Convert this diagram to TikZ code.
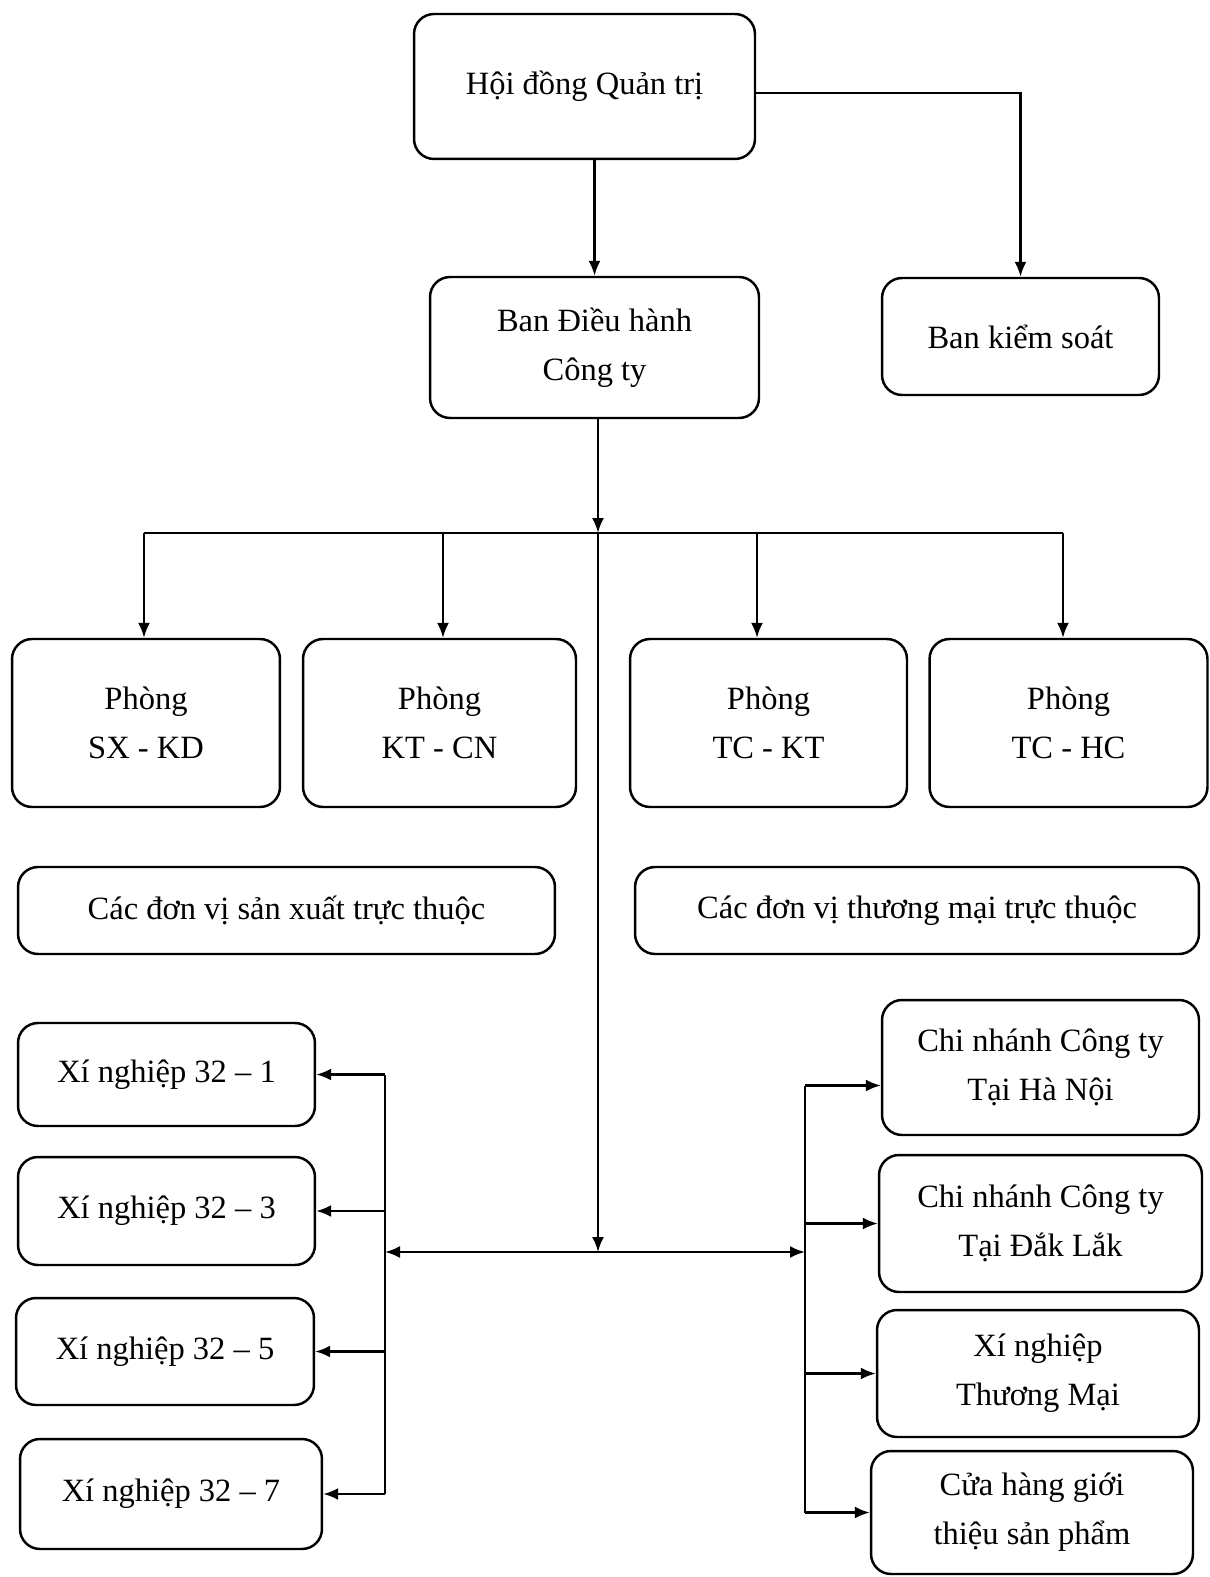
\documentclass[tikz,border=0pt]{standalone}
\usepackage{fontspec}
\setmainfont{Liberation Serif}
\usetikzlibrary{arrows.meta}

\begin{document}
\begin{tikzpicture}[x=0.02cm,y=-0.02cm,
    khung/.style={draw,line width=1.4pt,rounded corners=0.4cm,align=center,
      font=\fontsize{18.5}{28}\selectfont,inner sep=0pt},
    muiten/.style={line width=1.3pt,-{Latex[length=3mm,width=2.4mm]}},
    duong/.style={line width=1.3pt}]
      \useasboundingbox (0,0) rectangle (1209,1577);
      % cap tren
      \node[khung,minimum width=6.82cm,minimum height=2.9cm] (hdqt) at (584.5,86.5) {Hội đồng Quản trị};
      \node[khung,minimum width=6.58cm,minimum height=2.82cm] (bdh) at (594.5,347.5) {Ban Điều hành\\Công ty};
      \node[khung,minimum width=5.54cm,minimum height=2.34cm] (bks) at (1020.5,336.5) {Ban kiểm soát};
      \draw[muiten] (bdh.north |- hdqt.south) -- (bdh.north);
      \draw[muiten] ([yshift=-0.13cm]hdqt.east) -| (bks.north);
      % cac phong
      \node[khung,minimum width=5.36cm,minimum height=3.36cm] (sxkd) at (146,723) {Phòng\\SX - KD};
      \node[khung,minimum width=5.46cm,minimum height=3.36cm] (ktcn) at (439.5,723) {Phòng\\KT - CN};
      \node[khung,minimum width=5.54cm,minimum height=3.36cm] (tckt) at (768.5,723) {Phòng\\TC - KT};
      \node[khung,minimum width=5.56cm,minimum height=3.36cm] (tchc) at (1068.5,723) {Phòng\\TC - HC};
      \node[khung,minimum width=10.74cm,minimum height=1.74cm] (dvsx) at (286.5,910.5) {Các đơn vị sản xuất trực thuộc};
      \node[khung,minimum width=11.28cm,minimum height=1.74cm] (dvtm) at (917,910.5) {Các đơn vị thương mại trực thuộc};
      \coordinate (nut1) at (598,533);
      \coordinate (nut2) at (598,1252);
      \coordinate (re1) at (144,533);
      \coordinate (re2) at (443,533);
      \coordinate (re3) at (757,533);
      \coordinate (re4) at (1063,533);
      \draw[muiten] (bdh.south -| nut1) -- (nut1);
      \draw[duong] (re1) -- (re4);
      \foreach \r/\p in {re1/sxkd,re2/ktcn,re3/tckt,re4/tchc}
        \draw[muiten] (\r) -- (\r |- \p.north);
      \draw[muiten] (nut1) -- (nut2);
      % xi nghiep san xuat
      \node[khung,minimum width=5.94cm,minimum height=2.06cm] (xn1) at (166.5,1074.5) {Xí nghiệp 32 -- 1};
      \node[khung,minimum width=5.94cm,minimum height=2.16cm] (xn3) at (166.5,1211) {Xí nghiệp 32 -- 3};
      \node[khung,minimum width=5.96cm,minimum height=2.14cm] (xn5) at (165,1351.5) {Xí nghiệp 32 -- 5};
      \node[khung,minimum width=6.04cm,minimum height=2.2cm] (xn7) at (171,1494) {Xí nghiệp 32 -- 7};
      \coordinate (trai) at (385,1252);
      \draw[muiten] (nut2) -- (trai);
      \draw[duong] (trai |- xn1.east) -- (trai |- xn7.east);
      \foreach \x in {xn1,xn3,xn5,xn7}
        \draw[muiten] (trai |- \x.east) -- (\x.east);
      % don vi thuong mai
      \node[khung,minimum width=6.34cm,minimum height=2.7cm] (cnhn) at (1040.5,1067.5) {Chi nhánh Công ty\\Tại Hà Nội};
      \node[khung,minimum width=6.46cm,minimum height=2.74cm] (cndl) at (1040.5,1223.5) {Chi nhánh Công ty\\Tại Đắk Lắk};
      \node[khung,minimum width=6.44cm,minimum height=2.54cm] (xntm) at (1038,1373.5) {Xí nghiệp\\Thương Mại};
      \node[khung,minimum width=6.44cm,minimum height=2.46cm] (chsp) at (1032,1512.5) {Cửa hàng giới\\thiệu sản phẩm};
      \coordinate (phai) at (805,1252);
      \draw[muiten] (nut2) -- (phai);
      \draw[duong] ([yshift=-0.36cm]cnhn.west -| phai) -- (phai |- chsp.west);
      \draw[muiten] ([yshift=-0.36cm]cnhn.west -| phai) -- ([yshift=-0.36cm]cnhn.west);
      \foreach \c in {cndl,xntm,chsp}
        \draw[muiten] (phai |- \c.west) -- (\c.west);
\end{tikzpicture}
\end{document}
